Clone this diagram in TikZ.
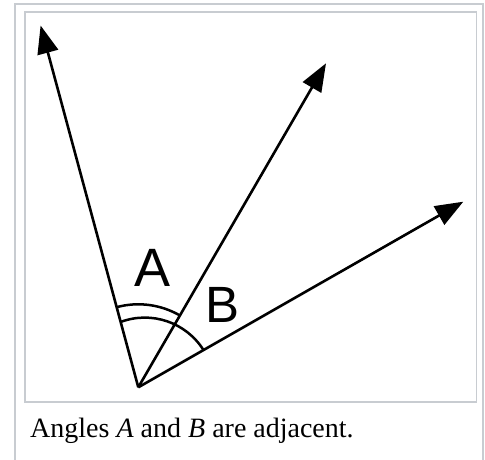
\documentclass[tikz,border=0pt]{standalone}
\usepackage{fontspec}
\setmainfont{Liberation Serif}
\newfontfamily\labelfont{Liberation Sans}
\usetikzlibrary{arrows.meta}
\definecolor{framegray}{HTML}{C8CCD1}
\begin{document}
\begin{tikzpicture}[x=1pt,y=1pt,
  ray/.style={line width=2.6pt, -{Triangle[length=28pt,width=21pt]}},
  anglearc/.style={line width=2.5pt},
  framebox/.style={draw=framegray, line width=1.6pt},
  laba/.style={inner sep=0pt, font=\labelfont\fontsize{54}{54}\selectfont},
  labb/.style={inner sep=0pt, font=\labelfont\fontsize{51}{51}\selectfont},
  captext/.style={inner sep=0pt, anchor=base west, font=\fontsize{28}{28}\selectfont}]
\useasboundingbox (0,0) rectangle (485,460);
\clip (0,0) rectangle (485,460);
\fill[white] (0,0) rectangle (485,460);
% frames
\draw[framebox] (15,-5) -- (15,456) -- (482.7,456) -- (482.7,-5);
\draw[framebox] (25,58) rectangle (476.5,448);
% rays
\coordinate (V) at (138.3,72.7);
\coordinate (TL) at (40.6,434.5);
\coordinate (TM) at (326,396.7);
\coordinate (TR) at (463.3,258.3);
\draw[ray] (V) -- (TL);
\draw[ray] (V) -- (TM);
\draw[ray] (V) -- (TR);
% angle arcs
\draw[anglearc] ([shift={(105.13:83pt)}]V) arc[start angle=105.13, end angle=59.92, radius=83pt];
\coordinate (C2) at (144.8,73.1);
\draw[anglearc] ([shift={(110.45:69.3pt)}]C2) arc[start angle=110.45, end angle=32.1, radius=69.3pt];
% labels
\node[laba] (la) at (152.5,192.2) {A};
\node[labb] (lb) at (222.8,155) {B};
% caption
\node[captext] (cap) at (30,22.5) {Angles \textit{A} and \textit{B} are adjacent.};
\end{tikzpicture}
\end{document}
